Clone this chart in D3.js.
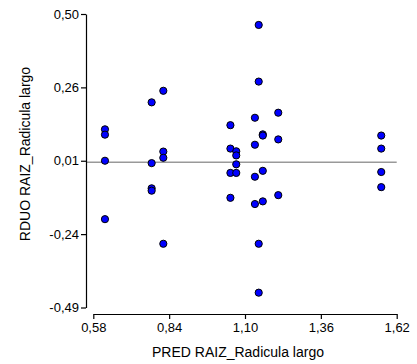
<!DOCTYPE html>
<html>
<head>
<meta charset="utf-8">
<script src="https://cdn.jsdelivr.net/npm/d3@7"></script>
<style>
  body { margin: 0; background: #fff; }
  text { font-family: "Liberation Sans", Arial, sans-serif; }
</style>
</head>
<body>
<div id="chart"></div>
<script>
// predicted vs residual
const predX = [
  0.62, 0.62, 0.62, 0.62,
  0.78, 0.78, 0.78, 0.78,
  0.82, 0.82, 0.82, 0.82,
  1.05, 1.05, 1.05, 1.05,
  1.07, 1.07, 1.07, 1.07,
  1.134, 1.134, 1.134, 1.134,
  1.147, 1.147, 1.147, 1.147,
  1.161, 1.161, 1.161, 1.161,
  1.214, 1.214, 1.214,
  1.567, 1.567, 1.567, 1.567
];
const residY = [
  0.111, 0.093, 0.005, -0.192,
  0.202, -0.003, -0.088, -0.096,
  0.241, 0.036, 0.015, -0.275,
  0.125, 0.046, -0.036, -0.120,
  0.037, 0.023, -0.007, -0.036,
  0.150, 0.059, -0.049, -0.141,
  0.463, 0.272, -0.275, -0.440,
  0.094, 0.090, -0.029, -0.132,
  0.167, 0.077, -0.111,
  0.090, 0.046, -0.033, -0.084
];
const xTicks = [0.58, 0.84, 1.10, 1.36, 1.62];
const xTickLabels = ["0,58", "0,84", "1,10", "1,36", "1,62"];
const yTicks = [0.50, 0.2525, 0.005, -0.2425, -0.49];
const yTickLabels = ["0,50", "0,26", "0,01", "-0,24", "-0,49"];
const xTitle = "PRED RAIZ_Radicula largo";
const yTitle = "RDUO RAIZ_Radicula largo";

const width = 417, height = 364;

const svg = d3.select("#chart").append("svg")
  .attr("width", width)
  .attr("height", height);

const x = d3.scaleLinear().domain([0.58, 1.62]).range([93.3, 396.7]);
const y = d3.scaleLinear().domain([-0.49, 0.50]).range([307.5, 14]);

const yAxisX = 86, xAxisY = 314;

// zero reference line
svg.append("line")
  .attr("x1", yAxisX).attr("x2", x(1.62))
  .attr("y1", y(0)).attr("y2", y(0))
  .attr("stroke", "#999").attr("stroke-width", 1.5);

const yAxis = svg.append("g")
  .attr("transform", `translate(${yAxisX},0)`)
  .call(d3.axisLeft(y).tickValues(yTicks)
    .tickFormat((d, i) => yTickLabels[i]).tickSize(5).tickSizeOuter(0));

const xAxis = svg.append("g")
  .attr("transform", `translate(0,${xAxisY})`)
  .call(d3.axisBottom(x).tickValues(xTicks)
    .tickFormat((d, i) => xTickLabels[i]).tickSize(5).tickSizeOuter(0));

[yAxis, xAxis].forEach(g => {
  g.selectAll("path, line").attr("stroke", "#000").attr("stroke-width", 1.2);
  g.selectAll("text")
    .attr("fill", "#000")
    .style("font-size", "13px")
    .style("font-family", "'Liberation Sans', Arial, sans-serif");
});
yAxis.selectAll("text").attr("x", -7);
xAxis.selectAll("text").attr("y", 9);

svg.selectAll(".pt")
  .data(predX.map((p, i) => ({p: p, r: residY[i]})))
  .enter().append("circle")
  .attr("class", "pt")
  .attr("cx", d => x(d.p))
  .attr("cy", d => y(d.r))
  .attr("r", 3.6)
  .attr("fill", "#0000ff")
  .attr("stroke", "#000")
  .attr("stroke-width", 1);

svg.append("text")
  .attr("x", 238).attr("y", 357)
  .attr("text-anchor", "middle")
  .style("font-size", "14px")
  .text(xTitle);

svg.append("text")
  .attr("transform", "translate(30,154) rotate(-90)")
  .attr("text-anchor", "middle")
  .style("font-size", "14px")
  .text(yTitle);
</script>
</body>
</html>
